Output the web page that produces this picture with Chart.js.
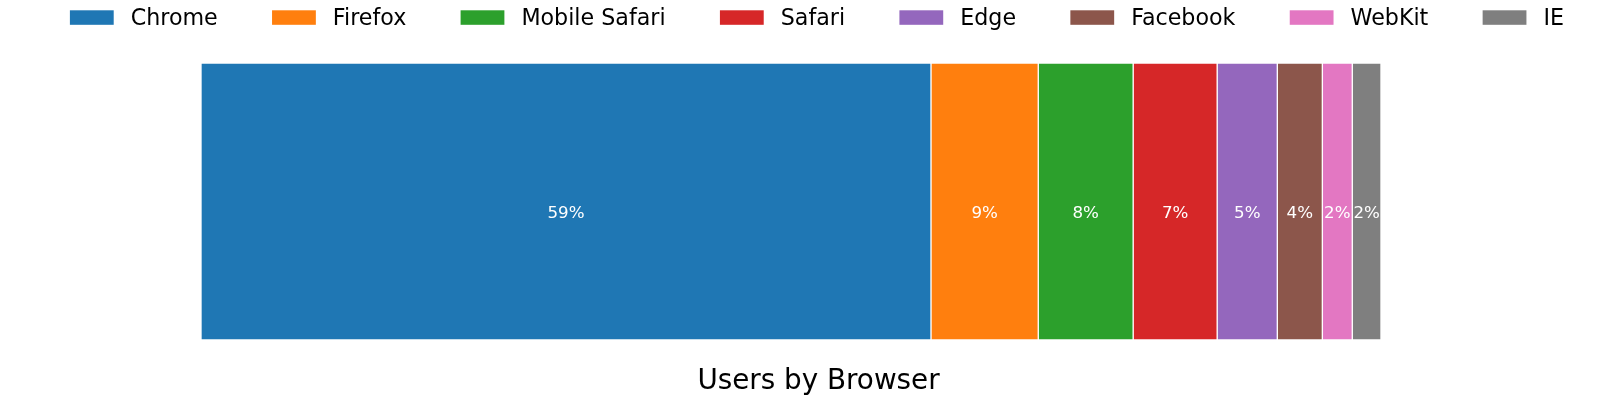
<!DOCTYPE html>
<html>
<head>
<meta charset="utf-8">
<script src="https://cdn.jsdelivr.net/npm/chart.js@4.4.1/dist/chart.umd.min.js"></script>
<style>
  html, body { margin: 0; padding: 0; background: #fff; }
  #wrap { width: 1600px; height: 398px; }
</style>
</head>
<body>
<div id="wrap"><canvas id="c" width="1600" height="398"></canvas></div>
<script>
// ---- data ----
const categories = ["Users"];
const browsers = ["Chrome", "Firefox", "Mobile Safari", "Safari", "Edge", "Facebook", "WebKit", "IE"];
const shares = [59.0, 8.67, 7.67, 6.79, 4.86, 3.64, 2.42, 2.32];
const colors = ["#1f77b4", "#ff7f0e", "#2ca02c", "#d62728", "#9467bd", "#8c564b", "#e377c2", "#7f7f7f"];
const titleText = "Users by Browser";

const FONT = "'DejaVu Sans', 'Liberation Sans', sans-serif";

const datasets = browsers.map((b, i) => ({
  label: b,
  data: [shares[i]],
  backgroundColor: colors[i],
  borderColor: "#ffffff",
  borderWidth: 1,
  borderSkipped: false,
  barPercentage: 1.0,
  categoryPercentage: 1.0
}));

const total = shares.reduce((a, b) => a + b, 0);

// Bar value labels (centered in each segment)
const segLabels = {
  id: 'segLabels',
  afterDatasetsDraw(chart) {
    const ctx = chart.ctx;
    ctx.save();
    ctx.font = `16.7px ${FONT}`;
    ctx.fillStyle = '#ffffff';
    ctx.textAlign = 'center';
    ctx.textBaseline = 'alphabetic';
    chart.data.datasets.forEach((ds, i) => {
      const meta = chart.getDatasetMeta(i);
      meta.data.forEach((el, j) => {
        const p = el.getProps(['x', 'y', 'base'], true);
        const cx = (p.x + p.base) / 2;
        ctx.fillText(Math.round(ds.data[j]) + '%', cx, p.y + 16.5);
      });
    });
    ctx.restore();
  }
};

// matplotlib-style expanded legend across the top
const mplLegend = {
  id: 'mplLegend',
  afterDraw(chart) {
    const ctx = chart.ctx;
    const fs = 22.2;
    const handle = 43.8, pad = 17;
    ctx.save();
    ctx.font = `${fs}px ${FONT}`;
    const items = chart.data.datasets.map(ds => ({
      label: ds.label, color: ds.backgroundColor, w: ctx.measureText(ds.label).width
    }));
    const L = 69.9, R = 1564;
    const used = items.reduce((s, it) => s + handle + pad + it.w, 0);
    const gap = (R - L - used) / (items.length - 1);
    let x = L;
    items.forEach(it => {
      ctx.fillStyle = it.color;
      ctx.fillRect(x, 10.3, handle, 14.5);
      ctx.fillStyle = '#000000';
      ctx.textAlign = 'left';
      ctx.textBaseline = 'alphabetic';
      ctx.fillText(it.label, x + handle + pad, 24.6);
      x += handle + pad + it.w + gap;
    });
    ctx.restore();
  }
};

new Chart(document.getElementById('c'), {
  type: 'bar',
  data: { labels: categories, datasets },
  options: {
    indexAxis: 'y',
    responsive: false,
    animation: false,
    devicePixelRatio: 1,
    layout: { padding: { left: 37, right: 0, top: 63, bottom: 0 } },
    scales: {
      x: { stacked: true, min: 0, max: total, display: false },
      y: {
        stacked: true,
        display: true,
        grid: { display: false },
        ticks: { display: false },
        border: { display: false },
        afterFit(scale) { scale.width = 164; }
      },
      yRight: {
        type: 'linear',
        position: 'right',
        display: true,
        grid: { display: false },
        ticks: { display: false },
        border: { display: false },
        afterFit(scale) { scale.width = 219; }
      }
    },
    plugins: {
      legend: { display: false },
      tooltip: { enabled: false },
      title: {
        display: true,
        text: titleText,
        position: 'bottom',
        color: '#000000',
        font: { family: FONT, size: 27.8, weight: 'normal', lineHeight: 1.0 },
        padding: { top: 28, bottom: 2.2 }
      }
    }
  },
  plugins: [segLabels, mplLegend]
});
</script>
</body>
</html>
